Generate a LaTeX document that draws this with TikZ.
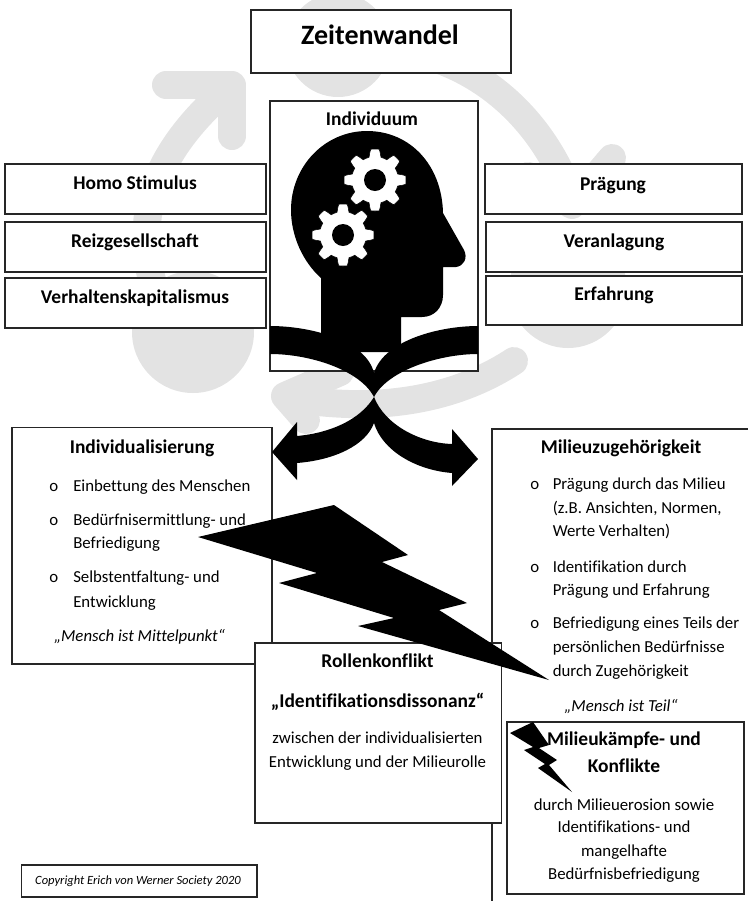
\documentclass[tikz,border=0pt]{standalone}
\usepackage{fontspec}
\setmainfont{Carlito}[Ligatures=NoCommon]
\usetikzlibrary{calc}
\definecolor{ringgrey}{HTML}{E3E3E3}
\tikzset{
  boxn/.style={draw=black!85,line width=0.9pt,fill=white,inner sep=0pt,rectangle},
  ring/.style={draw=ringgrey,line width=21pt,line cap=round,line join=round},
  blob/.style={fill=ringgrey},
  ink/.style={fill=black},
  gearw/.style={fill=white,draw=black,line width=0.4pt},
  titlet/.style={anchor=base,font=\fontsize{21}{25}\selectfont\bfseries,inner sep=0pt},
  headt/.style={anchor=base,font=\fontsize{14.6}{17}\selectfont\bfseries,inner sep=0pt},
  bodyt/.style={anchor=base west,font=\fontsize{12.6}{15}\selectfont,inner sep=0pt},
  bodyc/.style={anchor=base,font=\fontsize{12.6}{15}\selectfont,inner sep=0pt},
  itat/.style={anchor=base,font=\fontsize{12.6}{15}\selectfont\itshape,inner sep=0pt},
  smallt/.style={anchor=base,font=\fontsize{9.4}{11}\selectfont\itshape,inner sep=0pt},
}
\newcommand{\bx}[5]{\node[boxn,minimum width={(#4-#2)*0.75pt},minimum height={(#5-#3)*0.75pt}] (#1) at ({(#2+#4)/2},{(#3+#5)/2}) {};}
\newcommand{\gearshape}[2]{\draw[gearw] plot[domain=0:360,samples=289,smooth] ({#1+(27.2+3.8*max(-1,min(1,2.2*cos(8*\x))))*cos(\x)},{#2+(27.2+3.8*max(-1,min(1,2.2*cos(8*\x))))*sin(\x)}) -- cycle; \fill[ink] (#1,#2) circle (11);}
\begin{document}
\begin{tikzpicture}[x=0.75pt,y=-0.75pt]
\useasboundingbox (0,0) rectangle (748,901);
\clip (0,0) rectangle (748,901);
% grey circular arrows
\fill[blob] (338,45) circle (52);
\fill[blob] (193,332) circle (61);
\fill[blob] (568,289) circle (59);
\draw[ring] (226,90) .. controls (180,130) and (150,175) .. (147,225) .. controls (146,260) and (150,290) .. (170,320);
\draw[ring] (166,85) -- (232,85) -- (232,136);
\draw[ring] (400,50) .. controls (470,60) and (540,110) .. (572,200);
\draw[ring] (528,176) -- (572,205) -- (612,158);
\draw[ring] (514,361) .. controls (450,403) and (370,412) .. (290,398);
\draw[ring] (340,372) -- (285,396) -- (306,420);
% boxes
\bx{zeit}{251}{10}{511}{73}
\bx{indiv}{270}{101}{478}{371}
\bx{homo}{5}{164}{266}{214}
\bx{reiz}{5}{222}{266}{272}
\bx{verh}{5}{278}{266}{328}
\bx{praeg}{485}{164}{742}{214}
\bx{veran}{486}{222}{742}{272}
\bx{erf}{486}{276}{742}{325}
\bx{milieu}{492}{429}{770}{920}
\bx{indi}{12}{427.5}{272}{664}
\bx{rolle}{255}{643}{501.5}{823}
\bx{kampf}{507}{722}{744}{894}
\bx{copy}{21.5}{865}{257}{897}
% head
\fill[ink] (321,352) -- (321,278) .. controls (303,262) and (291,236) .. (291,210) .. controls (291,166) and (325,131) .. (367,131) .. controls (410,131) and (442,165) .. (443,213) -- (464,250) .. controls (468,258) and (464,266) .. (456,267) -- (443,267) -- (443,295) .. controls (443,308) and (434,317) .. (422,317) -- (401,317) -- (401,352) -- cycle;
\gearshape{343}{235}
\gearshape{375}{180}
% crossing arrows
\fill[ink] (270,326) .. controls (310,326) and (366,340) .. (374,373) -- (374,397) .. controls (360,370) and (310,354) .. (270,354) -- cycle;
\fill[ink] (478,326) .. controls (440,326) and (384,340) .. (374,373) -- (374,397) .. controls (388,370) and (440,354) .. (478,354) -- cycle;
\fill[ink] (374,397) .. controls (360,420) and (330,433) .. (297,436) -- (297,422) -- (272,452) -- (297,480) -- (297,463) .. controls (335,460) and (366,445) .. (374,423) -- cycle;
\fill[ink] (374,397) .. controls (385,425) and (420,443) .. (452,444) -- (452,429) -- (478,459) -- (452,486) -- (452,473) .. controls (415,470) and (382,450) .. (374,423) -- cycle;
% texts
\node[titlet] (tzeit) at (380,44) {Zeitenwandel};
\node[headt] (tindiv) at (372,125) {Individuum};
\node[headt] (thomo) at (135,189) {Homo Stimulus};
\node[headt] (treiz) at (135,247) {Reizgesellschaft};
\node[headt] (tverh) at (135,303) {Verhaltenskapitalismus};
\node[headt] (tpraeg) at (613,190) {Prägung};
\node[headt] (tveran) at (614,247) {Veranlagung};
\node[headt] (terf) at (614,300) {Erfahrung};
\node[headt] (tindi) at (142,453) {Individualisierung};
\node[bodyt] (ob1) at (49,491) {o};
\node[bodyt] (tb1) at (73,491) {Einbettung des Menschen};
\node[bodyt] (ob2) at (49,525) {o};
\node[bodyt] (tb2) at (73,525) {Bedürfnisermittlung- und};
\node[bodyt] (tb2b) at (73,548) {Befriedigung};
\node[bodyt] (ob3) at (49,582) {o};
\node[bodyt] (tb3) at (73,582) {Selbstentfaltung- und};
\node[bodyt] (tb3b) at (73,607) {Entwicklung};
\node[itat] (tmm) at (139.5,641) {„Mensch ist Mittelpunkt“};
\node[headt] (tmil) at (621,453) {Milieuzugehörigkeit};
\node[bodyt] (om1) at (530,489) {o};
\node[bodyt] (tm1) at (552.5,489) {Prägung durch das Milieu};
\node[bodyt] (tm1b) at (552.5,513) {(z.B. Ansichten, Normen,};
\node[bodyt] (tm1c) at (552.5,536) {Werte Verhalten)};
\node[bodyt] (om2) at (530,572) {o};
\node[bodyt] (tm2) at (552.5,572) {Identifikation durch};
\node[bodyt] (tm2b) at (552.5,595) {Prägung und Erfahrung};
\node[bodyt] (om3) at (530,628) {o};
\node[bodyt] (tm3) at (552.5,628) {Befriedigung eines Teils der};
\node[bodyt] (tm3b) at (552.5,652) {persönlichen Bedürfnisse};
\node[bodyt] (tm3c) at (552.5,676) {durch Zugehörigkeit};
\node[itat] (tmt) at (621,711) {„Mensch ist Teil“};
\node[headt] (trol) at (377.5,667) {Rollenkonflikt};
\node[headt] (tid) at (377.5,707) {„Identifikationsdissonanz“};
\node[bodyc] (tzw) at (377.5,743) {zwischen der individualisierten};
\node[bodyc] (tent) at (377.5,767) {Entwicklung und der Milieurolle};
\node[headt] (tka) at (624,745) {Milieukämpfe- und};
\node[headt] (tko) at (624,772) {Konflikte};
\node[bodyc] (td1) at (624,810) {durch Milieuerosion sowie};
\node[bodyc] (td2) at (624,832) {Identifikations- und};
\node[bodyc] (td3) at (624,856) {mangelhafte};
\node[bodyc] (td4) at (624,879) {Bedürfnisbefriedigung};
\node[smallt] (tcopy) at (138,884) {Copyright Erich von Werner Society 2020};
% lightning bolts
\fill[ink] (198,537) -- (334,505) -- (408,555) -- (382,562) -- (467,603) -- (439,610) -- (549,680) -- (358,626) -- (394,618) -- (279,583) -- (317,573) -- cycle;
\fill[ink] (510,733) -- (533,722) -- (549,745) -- (539,748) -- (557,760) -- (549,765) -- (572,792) -- (538,768) -- (545,764) -- (524,750) -- (533,747) -- cycle;
\end{tikzpicture}
\end{document}
